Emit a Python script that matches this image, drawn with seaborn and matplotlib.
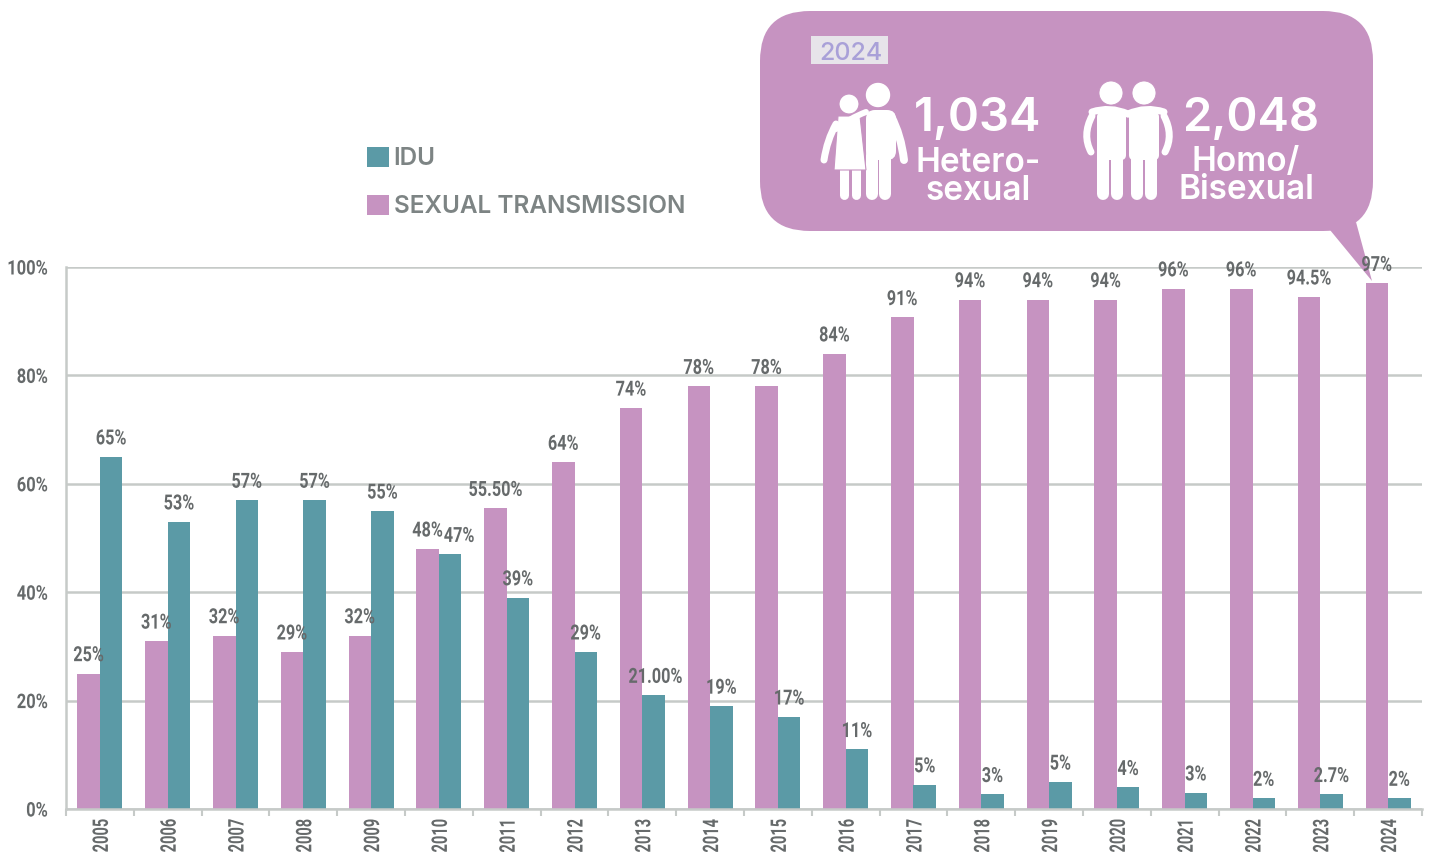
import matplotlib
matplotlib.use('Agg')
import matplotlib.pyplot as plt
import pandas as pd
import seaborn as sns
from matplotlib.patches import Ellipse, FancyBboxPatch, Patch, PathPatch, Polygon, Rectangle
from matplotlib.patheffects import AbstractPathEffect
from matplotlib.path import Path
from matplotlib.transforms import Affine2D, ScaledTranslation

years = [str(y) for y in range(2005, 2025)]
sexual = [25, 31, 32, 29, 32, 48, 55.5, 64, 74, 78, 78, 84, 90.7, 94, 94, 94, 96, 96, 94.5, 97]
idu = [65, 53, 57, 57, 55, 47, 39, 29, 21, 19, 17, 11, 4.5, 2.7, 5, 4, 3, 2, 2.7, 2]
sexual_labels = ['25%', '31%', '32%', '29%', '32%', '48%', '55.50%', '64%', '74%', '78%',
                 '78%', '84%', '91%', '94%', '94%', '94%', '96%', '96%', '94.5%', '97%']
idu_labels = ['65%', '53%', '57%', '57%', '55%', '47%', '39%', '29%', '21.00%', '19%',
              '17%', '11%', '5%', '3%', '5%', '4%', '3%', '2%', '2.7%', '2%']
yticks = [0, 20, 40, 60, 80, 100]

PURPLE = '#c693c1'
TEAL = '#5b9aa6'
GRID = '#c6cac8'
LABEL = '#666a6b'
NARROW = ['Roboto', 'Liberation Sans']
WIDE = ['Inter', 'DejaVu Sans']

W, H = 1434, 852


class Squeeze(AbstractPathEffect):
    """Condense a text horizontally, no condensed font is installed."""

    def __init__(self, sx, anchor='center'):
        self.sx = sx
        self.anchor = anchor

    def draw_path(self, renderer, gc, tpath, affine, rgbFace=None):
        box = tpath.get_extents()
        x0 = {'left': box.x0, 'right': box.x1, 'center': (box.x0 + box.x1) / 2}[self.anchor]
        squeeze = Affine2D().translate(-x0, 0).scale(self.sx, 1).translate(x0, 0)
        renderer.draw_path(gc, tpath, squeeze + affine, rgbFace)


sns.set_theme(style='white')
fig = plt.figure(figsize=(W / 100, H / 100), dpi=100)
ax = fig.add_axes([66 / W, 1 - 809 / H, (1422 - 66) / W, (809 - 267) / H])

df = pd.DataFrame({
    'year': years * 2,
    'share': sexual + idu,
    'series': ['SEXUAL TRANSMISSION'] * len(years) + ['IDU'] * len(years),
})
sns.barplot(data=df, x='year', y='share', hue='series',
            hue_order=['SEXUAL TRANSMISSION', 'IDU'],
            palette={'SEXUAL TRANSMISSION': PURPLE, 'IDU': TEAL},
            width=0.664, saturation=1, linewidth=0, legend=False, ax=ax)

ax.set_xlim(-0.5, 19.5)
ax.set_ylim(0, 100)
ax.set_xlabel('')
ax.set_ylabel('')
ax.set_axisbelow(True)
ax.yaxis.grid(True, color=GRID, linewidth=1.8)
ax.xaxis.grid(False)
ax.set_yticks(yticks)
ax.set_yticklabels([f'{v}%' for v in yticks], fontsize=14.5, fontweight='bold',
                   color=LABEL, family=NARROW)
for t in ax.get_yticklabels():
    t.set_path_effects([Squeeze(0.82, 'right')])
ax.tick_params(axis='y', length=0, pad=13)

# year labels sit mid-category, tick marks on the category edges
ax.tick_params(axis='x', which='major', length=0, pad=-4)
ax.set_xticks(range(len(years)))
ax.set_xticklabels(years, rotation=90, fontsize=15.5, fontweight='bold', color=LABEL, family=NARROW)
nudge = ScaledTranslation(2 / 100, 0, fig.dpi_scale_trans)
for t in ax.get_xticklabels():
    t.set_path_effects([Squeeze(0.68, 'left')])
    t.set_transform(t.get_transform() + nudge)
ax.set_xticks([i - 0.5 for i in range(len(years) + 1)], minor=True)
ax.tick_params(axis='x', which='minor', length=5, width=1.5, color=GRID, bottom=True)

for side in ['top', 'right']:
    ax.spines[side].set_visible(False)
for side in ['left', 'bottom']:
    ax.spines[side].set_color(GRID)
    ax.spines[side].set_linewidth(1.8)

# value labels
texts_sexual = ax.bar_label(ax.containers[0], labels=sexual_labels, padding=6, fontsize=15,
                            fontweight='bold', color=LABEL, family=NARROW)
texts_idu = ax.bar_label(ax.containers[1], labels=idu_labels, padding=6, fontsize=15,
                         fontweight='bold', color=LABEL, family=NARROW)
texts_idu[5].xyann = (6.5, 6)
texts_idu[8].xyann = (1.5, 6)
for t in texts_sexual + texts_idu:
    t.set_zorder(4)
    t.set_path_effects([Squeeze(0.78)])

# pixel space overlay for the bubble content
ov = fig.add_axes([0, 0, 1, 1], zorder=5)
ov.set_xlim(0, W)
ov.set_ylim(H, 0)
ov.axis('off')
ov.patch.set_alpha(0)

# bubble goes under the value labels so 97% stays readable
bubble = FancyBboxPatch((760, 11), 613, 220, boxstyle='round,pad=0,rounding_size=50',
                        facecolor=PURPLE, edgecolor='none', transform=ov.transData,
                        clip_on=False, zorder=2.5)
tail = Polygon([(1330, 230), (1372, 281), (1356, 222)], closed=True, facecolor=PURPLE,
               edgecolor='none', transform=ov.transData, clip_on=False, zorder=2.5)
ax.add_patch(bubble)
ax.add_patch(tail)

ov.add_patch(Rectangle((811, 36), 77, 28, facecolor='#e7e4ea', edgecolor='none'))
ov.text(851, 53, '2024', ha='center', va='center', fontsize=18, color='#a9a0d8',
        fontweight='medium', family=WIDE)


def limb(points, width):
    # curved arm or straight leg, drawn as a thick round capped stroke
    codes = [Path.MOVETO] + [Path.CURVE3] * (len(points) - 1) if len(points) == 3 \
        else [Path.MOVETO] + [Path.LINETO] * (len(points) - 1)
    ov.add_patch(PathPatch(Path(points, codes), facecolor='none', edgecolor='white',
                           linewidth=width * 0.72, capstyle='round'))


def torso(x0, x1, y0, y1, r=9):
    ov.add_patch(FancyBboxPatch((x0, y0), x1 - x0, y1 - y0,
                                boxstyle=f'round,pad=0,rounding_size={r}',
                                facecolor='white', edgecolor='none'))


# hetero couple
ov.add_patch(Ellipse((878, 95), 23, 23, facecolor='white'))
torso(866, 896, 110, 160)
limb([(891, 116), (901, 135), (904, 160)], 8)
limb([(872, 155), (872, 194)], 12)
limb([(885, 155), (885, 194)], 12)
limb([(844, 165), (844, 195)], 9)
limb([(856, 165), (856, 195)], 9)
ov.add_patch(Polygon([(838, 116), (860, 116), (866, 170), (834, 170)], closed=True,
                     facecolor='white', edgecolor=PURPLE, linewidth=0.8))
ov.add_patch(Ellipse((849, 104), 20, 20, facecolor='white', edgecolor=PURPLE, linewidth=0.8))
limb([(836, 124), (827, 140), (824, 160)], 7)
limb([(866, 112), (850, 118), (836, 129)], 6)

# homo couple
for cx in (1111, 1144):
    ov.add_patch(Ellipse((cx, 93), 24, 24, facecolor='white', edgecolor=PURPLE, linewidth=0.6))
torso(1097, 1126, 112, 160, 5)
torso(1129, 1159, 112, 160, 5)
for lx in (1103, 1117, 1137, 1151):
    limb([(lx, 155), (lx, 194)], 12)
limb([(1092, 116), (1082, 135), (1091, 152)], 7)
limb([(1164, 116), (1174, 135), (1165, 152)], 7)
limb([(1092, 112), (1110, 106), (1128, 114)], 7)
limb([(1164, 112), (1146, 106), (1128, 114)], 7)

# bubble numbers
ov.text(978, 119, '1,034', ha='center', va='center', fontsize=34, color='white',
        fontweight='semibold', family=WIDE)
ov.text(978, 177, 'Hetero-\nsexual', ha='center', va='center', fontsize=24, color='white',
        fontweight='semibold', family=WIDE, linespacing=0.82)
ov.text(1251, 119, '2,048', ha='center', va='center', fontsize=34, color='white',
        fontweight='semibold', family=WIDE)
ov.text(1246, 176, 'Homo/\nBisexual', ha='center', va='center', fontsize=24, color='white',
        fontweight='semibold', family=WIDE, linespacing=0.82)

# legend, IDU listed first as in the original
handles = [Patch(facecolor=TEAL, edgecolor='none', label='IDU'),
           Patch(facecolor=PURPLE, edgecolor='none', label='SEXUAL TRANSMISSION')]
leg = ov.legend(handles=handles, loc='upper left', bbox_to_anchor=(367, 147),
                bbox_transform=ov.transData, frameon=False, borderpad=0, borderaxespad=0,
                handlelength=0.9, handleheight=0.9, handletextpad=0.2, labelspacing=1.0,
                prop={'family': WIDE, 'size': 17.5, 'weight': 'semibold'}, labelcolor='#7d8484')

fig.savefig('out.png', dpi=100, facecolor='white')
